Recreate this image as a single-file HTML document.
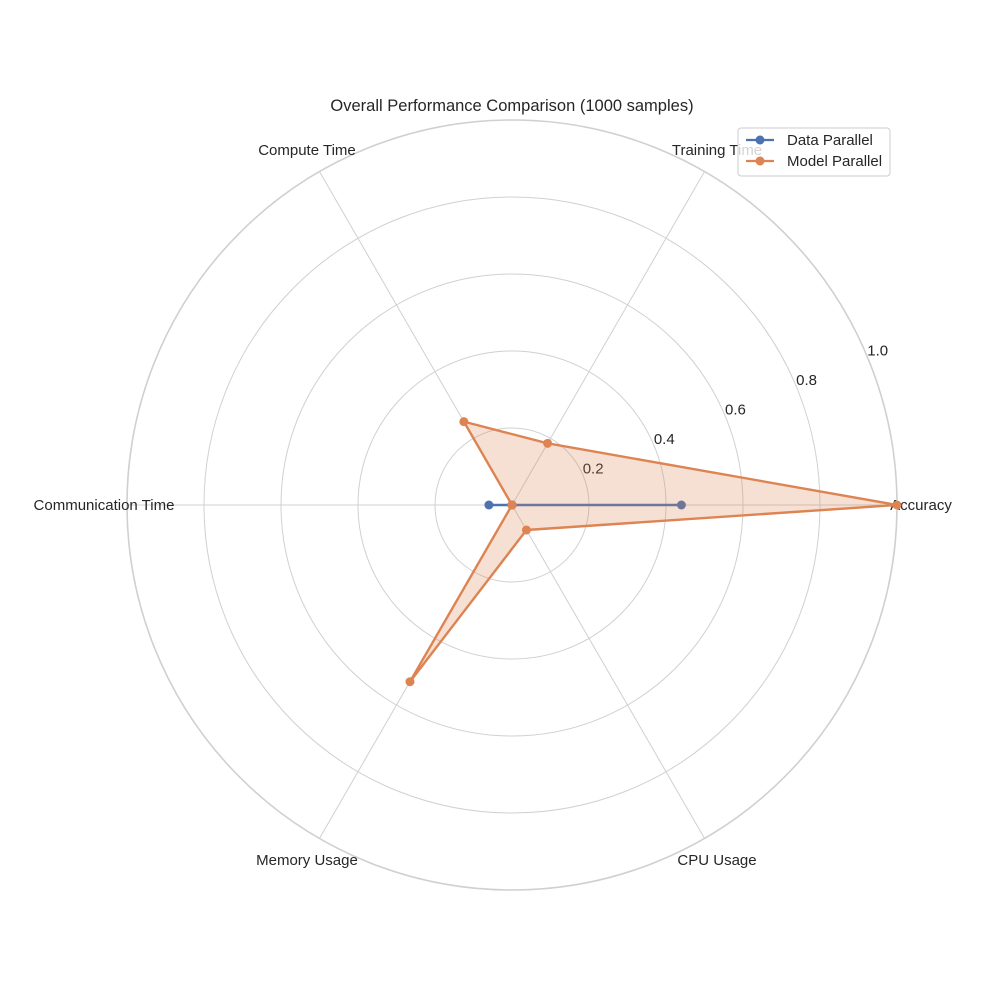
<!DOCTYPE html>
<html><head><meta charset="utf-8"><style>
html,body{margin:0;padding:0;background:#fff;}
svg{display:block;font-family:"Liberation Sans","DejaVu Sans",sans-serif;}
</style></head><body>
<svg id="chart" width="1000" height="1000" viewBox="0 0 1000 1000">
<rect width="1000" height="1000" fill="#fff"/>
<text x="512" y="111" text-anchor="middle" font-size="16.5" fill="#262626">Overall Performance Comparison (1000 samples)</text>
<g id="grid"></g><g id="series"></g>
<g>
<rect x="738" y="128" width="152" height="48" rx="3" fill="#fff" fill-opacity="0.8" stroke="#ccc"/>
<line x1="746" y1="140" x2="774" y2="140" stroke="#4c72b0" stroke-width="2.2"/><circle cx="760" cy="140" r="4.5" fill="#4c72b0"/>
<text x="787" y="145" font-size="15" fill="#262626">Data Parallel</text>
<line x1="746" y1="161" x2="774" y2="161" stroke="#dd8452" stroke-width="2.2"/><circle cx="760" cy="161" r="4.5" fill="#dd8452"/>
<text x="787" y="166" font-size="15" fill="#262626">Model Parallel</text>
</g>
</svg>
<script>
const categories=["Accuracy","Training Time","Compute Time","Communication Time","Memory Usage","CPU Usage"];
const dataParallel=[0.44,0,0,0.06,0,0];
const modelParallel=[1.0,0.185,0.25,0,0.53,0.075];
const ticks=[0.2,0.4,0.6,0.8,1.0];
const tickLabels=["0.2","0.4","0.6","0.8","1.0"];
const cx=512,cy=505,R=385,NS="http://www.w3.org/2000/svg";
function ang(i){return i*2*Math.PI/categories.length;}
function pt(v,i){return [cx+v*R*Math.cos(ang(i)),cy-v*R*Math.sin(ang(i))];}
function mk(t,a,p){const e=document.createElementNS(NS,t);for(const k in a)e.setAttribute(k,a[k]);p.appendChild(e);return e;}
const g=document.getElementById('grid'),s=document.getElementById('series');
ticks.forEach((t,k)=>{
 const c=mk('circle',{cx:cx,cy:cy,r:t*R,fill:'none',stroke:'#d0d0d0','stroke-width':t===1?1.6:1},g);
 
 
 const a=22.5*Math.PI/180;
 const tx=mk('text',{x:cx+t*R*Math.cos(a)+10,y:cy-t*R*Math.sin(a)-2,'font-size':15,fill:'#262626','text-anchor':'middle'},g);
 tx.textContent=tickLabels[k];
 
 
});
categories.forEach((c,i)=>{
 const p=pt(1,i);
 const l=mk('line',{x1:cx,y1:cy,x2:p[0],y2:p[1],stroke:'#d0d0d0','stroke-width':1},g);
 
 
 const q=pt(1.065,i);
 let x=q[0];
 if(i===0)x=cx+R+24; if(i===3)x=cx-R-23;
 const tx=mk('text',{x:x,y:q[1]+5,'font-size':15,fill:'#262626','text-anchor':'middle'},g);
 tx.textContent=c;
 
 
});
function draw(vals,color,name,fill){
 const pts=vals.map((v,i)=>pt(v,i));
 const d=pts.map(p=>p.join(',')).join(' ');
 if(fill){const f=mk('polygon',{points:d,fill:color,'fill-opacity':0.25,stroke:'none'},s);
  
  }
 const pl=mk('polygon',{points:d,fill:'none',stroke:color,'stroke-width':2.4,'stroke-linejoin':'round'},s);
 
 
 pts.forEach(p=>{const c=mk('circle',{cx:p[0],cy:p[1],r:4.5,fill:color},s);
  
  });
}
draw(dataParallel,'#4c72b0','data-parallel',false);
draw(modelParallel,'#dd8452','model-parallel',true);
</script>
</body></html>
